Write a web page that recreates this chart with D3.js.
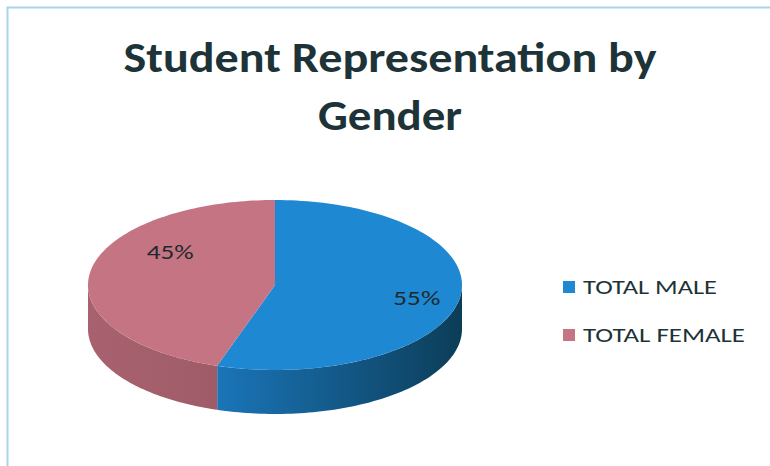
<!DOCTYPE html>
<html><head><meta charset="utf-8">
<script src="https://cdn.jsdelivr.net/npm/d3@7"></script>
<style>html,body{margin:0;padding:0;background:#fff;}svg{display:block;}</style>
</head><body>
<svg id="chart" width="770" height="466"></svg>
<script>
const categories = ["TOTAL MALE", "TOTAL FEMALE"];
const values = [55, 45];
const labels = ["55%", "45%"];
const topColors = ["#1E88D3", "#C47482"];
const sideLight = ["#1B79BF", "#A8626F"];
const sideDark = ["#0C3D58", "#8E5059"];
const titleLines = ["Student Representation by", "Gender"];

const W = 770, H = 466;
const svg = d3.select("#chart");
const font = "Carlito, Lato, 'Open Sans', sans-serif";
const textColor = "#1D3338";

// frame
svg.append("path").attr("d", `M7.5,${H} L7.5,7.5 L${W},7.5`)
  .attr("fill", "none").attr("stroke", "#A9D2EC").attr("stroke-width", 2);

// title
const titleLen = [533, 144];
svg.selectAll("text.title").data(titleLines).enter().append("text")
  .attr("class", "title")
  .attr("x", 390).attr("y", (d, i) => 72 + i * 58)
  .attr("text-anchor", "middle")
  .attr("font-family", font).attr("font-weight", "bold")
  .attr("font-size", 42).attr("fill", textColor)
  .attr("textLength", (d, i) => titleLen[i]).attr("lengthAdjust", "spacingAndGlyphs")
  .text(d => d);

// 3D pie
const cx = 275, cy = 285, rx = 187, ry = 85, depth = 44;
const pie = d3.pie().sort(null).startAngle(0).endAngle(2 * Math.PI);
const arcs = pie(values);
const pt = (a, dy = 0) => [cx + rx * Math.sin(a), cy - ry * Math.cos(a) + dy];

const defs = svg.append("defs");
arcs.forEach((a, i) => {
  const g = defs.append("linearGradient").attr("id", "side" + i)
    .attr("gradientUnits", "userSpaceOnUse")
    .attr("x1", cx - rx).attr("x2", cx + rx).attr("y1", 0).attr("y2", 0);
  g.append("stop").attr("offset", "0%").attr("stop-color", sideLight[i]);
  g.append("stop").attr("offset", i === 0 ? "30%" : "100%").attr("stop-color", i === 0 ? sideLight[0] : sideDark[1]);
  if (i === 0) g.append("stop").attr("offset", "100%").attr("stop-color", sideDark[0]);
});

function sidePath(a0, a1) {
  const lo = Math.max(a0, Math.PI / 2), hi = Math.min(a1, 3 * Math.PI / 2);
  if (hi <= lo) return null;
  const n = 80, top = [], bot = [];
  for (let k = 0; k <= n; k++) {
    const a = lo + (hi - lo) * k / n;
    top.push(pt(a)); bot.push(pt(a, depth));
  }
  return "M" + top.map(p => p.join(",")).join("L") + "L" + bot.reverse().map(p => p.join(",")).join("L") + "Z";
}
function topPath(a0, a1) {
  const n = 120, ps = [];
  for (let k = 0; k <= n; k++) ps.push(pt(a0 + (a1 - a0) * k / n));
  return `M${cx},${cy}L` + ps.map(p => p.join(",")).join("L") + "Z";
}

const pieG = svg.append("g");
arcs.forEach((a, i) => {
  const d = sidePath(a.startAngle, a.endAngle);
  if (d) pieG.append("path").attr("d", d).attr("fill", `url(#side${i})`);
});
arcs.forEach((a, i) => {
  pieG.append("path").attr("d", topPath(a.startAngle, a.endAngle)).attr("fill", topColors[i]);
});

// labels
const lblOff = [[7, 10], [30, -16]];
svg.selectAll("text.lbl").data(arcs).enter().append("text")
  .attr("class", "lbl")
  .attr("x", (d, i) => {
    const m = (d.startAngle + d.endAngle) / 2;
    return cx + rx * 0.73 * Math.sin(m) + lblOff[i][0];
  })
  .attr("y", (d, i) => {
    const m = (d.startAngle + d.endAngle) / 2;
    return cy - ry * 0.73 * Math.cos(m) + lblOff[i][1];
  })
  .attr("text-anchor", "middle")
  .attr("font-family", font).attr("font-size", 21).attr("fill", "#1E2A2E")
  .attr("textLength", 47).attr("lengthAdjust", "spacingAndGlyphs")
  .text((d, i) => labels[i]);

// legend
const legLen = [134, 162];
const leg = svg.selectAll("g.leg").data(categories).enter().append("g")
  .attr("class", "leg")
  .attr("transform", (d, i) => `translate(563,${281 + i * 48})`);
leg.append("rect").attr("width", 12).attr("height", 12).attr("fill", (d, i) => topColors[i]);
leg.append("text").attr("x", 20).attr("y", 12.5)
  .attr("font-family", font).attr("font-size", 21).attr("fill", textColor)
  .attr("textLength", (d, i) => legLen[i]).attr("lengthAdjust", "spacingAndGlyphs")
  .text(d => d);
</script>
</body></html>
